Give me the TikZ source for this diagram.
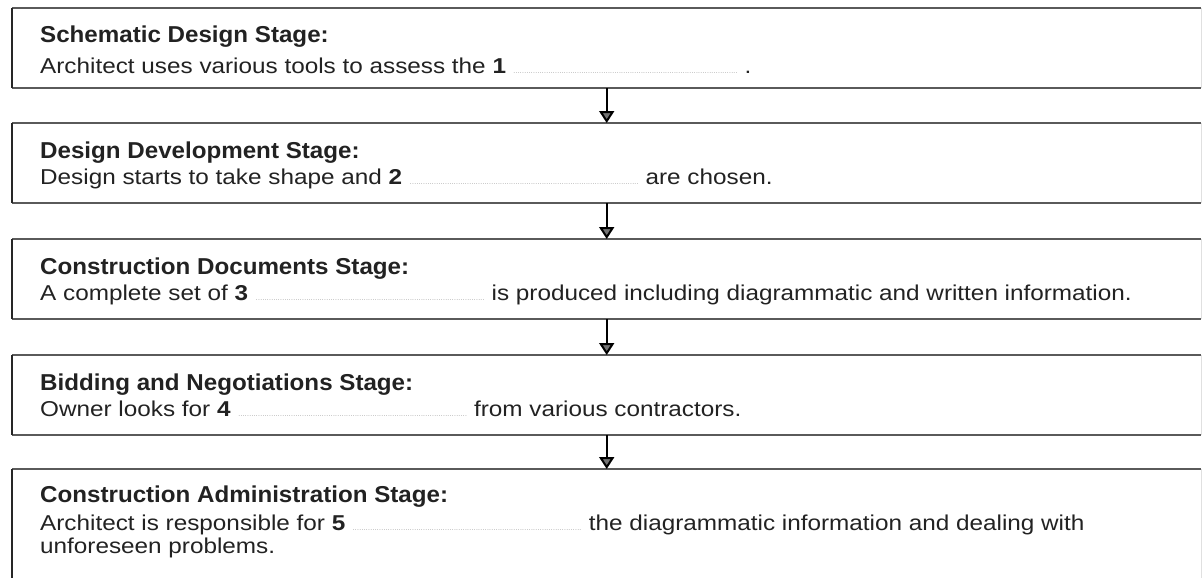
\documentclass[tikz,border=0pt]{standalone}
\usepackage{fontspec}
\setmainfont{Liberation Sans}[FakeStretch=1.13]
\newfontfamily\titlefont{Liberation Sans}[FakeStretch=1.05]
\usetikzlibrary{arrows.meta,calc}
\definecolor{textgray}{HTML}{222222}
\definecolor{edgegray}{HTML}{5A5A5A}
\newcommand{\answerdots}[1]{{\color{black!50}\fontsize{6}{6}\selectfont\leaders\hbox to 2.2pt{\hss.\hss}\hskip #1pt}}
\begin{document}
\begin{tikzpicture}[x=1pt,y=-1pt,
    stagebox/.style={anchor=north west, minimum width=1189pt, minimum height=80pt, inner sep=0pt},
    stagetitle/.style={anchor=base west, inner sep=0pt, text=textgray, font=\titlefont\bfseries\fontsize{23}{26}\selectfont},
    stagetext/.style={anchor=base west, inner sep=0pt, text=textgray, align=left, font=\fontsize{21.5}{23}\selectfont},
    hline/.style={line width=2pt, draw=edgegray},
    vline/.style={line width=2.5pt, draw=black!85},
    rline/.style={line width=1pt, draw=black!12},
    flow/.style={line width=2pt, -{Triangle[width=15pt,length=12pt,fill=black!55]}},
  ]
  \useasboundingbox (0,0) rectangle (1202,578);

  % Drawing box Schematic Design
  \node [stagebox] (s1) at (12,8) {};%
  \node [stagetitle] (h1) at ($(s1.north west)+(28,35)$) {Schematic Design Stage:};%
  \node [stagetext] (b1) at ($(s1.north west)+(28,66)$) {Architect uses various tools to assess the \textbf{1} \answerdots{225} .};%

  % Drawing box Design Development
  \node [stagebox] (s2) at (12,123) {};%
  \node [stagetitle] (h2) at ($(s2.north west)+(28,35)$) {Design Development Stage:};%
  \node [stagetext] (b2) at ($(s2.north west)+(28,61)$) {Design starts to take shape and \textbf{2} \answerdots{230} are chosen.};%

  % Drawing box Construction Documents
  \node [stagebox] (s3) at (12,239) {};%
  \node [stagetitle] (h3) at ($(s3.north west)+(28,35)$) {Construction Documents Stage:};%
  \node [stagetext] (b3) at ($(s3.north west)+(28,61)$) {A complete set of \textbf{3} \answerdots{230} is produced including diagrammatic and written information.};%

  % Drawing box Bidding and Negotiations
  \node [stagebox] (s4) at (12,355) {};%
  \node [stagetitle] (h4) at ($(s4.north west)+(28,35)$) {Bidding and Negotiations Stage:};%
  \node [stagetext] (b4) at ($(s4.north west)+(28,61)$) {Owner looks for \textbf{4} \answerdots{230} from various contractors.};%

  % Drawing box Construction Administration (base is the last line)
  \node [stagebox, minimum height=112pt] (s5) at (12,469) {};%
  \node [stagetitle] (h5) at ($(s5.north west)+(28,33)$) {Construction Administration Stage:};%
  \node [stagetext] (b5) at ($(s5.north west)+(28,84)$) {Architect is responsible for \textbf{5} \answerdots{230} the diagrammatic information and dealing with\\unforeseen problems.};%

  % Drawing box edges
  \draw [hline] (s1.north west) -- (s1.north east);%
  \draw [hline] (s1.south west) -- (s1.south east);%
  \draw [hline] (s2.north west) -- (s2.north east);%
  \draw [hline] (s2.south west) -- (s2.south east);%
  \draw [hline] (s3.north west) -- (s3.north east);%
  \draw [hline] (s3.south west) -- (s3.south east);%
  \draw [hline] (s4.north west) -- (s4.north east);%
  \draw [hline] (s4.south west) -- (s4.south east);%
  \draw [hline] (s5.north west) -- (s5.north east);%
  \draw [rline] (s1.north east) -- (s1.south east);%
  \draw [rline] (s2.north east) -- (s2.south east);%
  \draw [rline] (s3.north east) -- (s3.south east);%
  \draw [rline] (s4.north east) -- (s4.south east);%
  \draw [rline] (s5.north east) -- (s5.south east);%
  \draw [vline] (s1.north west) -- (s1.south west);%
  \draw [vline] (s2.north west) -- (s2.south west);%
  \draw [vline] (s3.north west) -- (s3.south west);%
  \draw [vline] (s4.north west) -- (s4.south west);%
  \draw [vline] (s5.north west) -- (s5.south west);%

  % Drawing arrows between stages
  \draw [flow] (s1.south) -- (s2.north);%
  \draw [flow] (s2.south) -- (s3.north);%
  \draw [flow] (s3.south) -- (s4.north);%
  \draw [flow] (s4.south) -- (s5.north);%
\end{tikzpicture}
\end{document}
